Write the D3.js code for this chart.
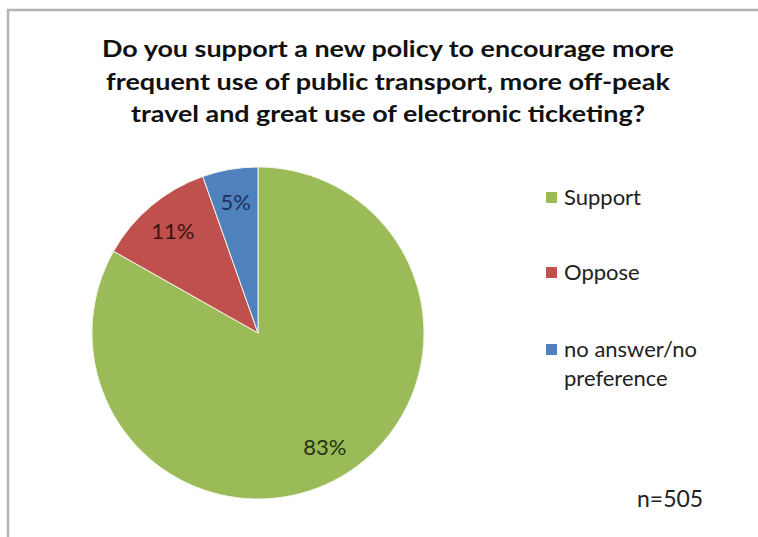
<!DOCTYPE html>
<html>
<head>
<meta charset="utf-8">
<script src="https://cdn.jsdelivr.net/npm/d3@7"></script>
<style>
  html, body { margin: 0; padding: 0; background: #fff; }
  svg { display: block; }
</style>
</head>
<body>
<svg id="chart" width="758" height="537"></svg>
<script>
// ---- data ----
const categories = ["Support", "Oppose", "no answer/no preference"];
const values = [83.2, 11.4, 5.4];
const valueLabels = ["83%", "11%", "5%"];
const colors = ["#9BBB59", "#C0504D", "#4F81BD"];
const labelColors = ["#24320f", "#3a1513", "#1c3157"];
const legendLines = [["Support"], ["Oppose"], ["no answer/no", "preference"]];
const titleLines = [
  "Do you support a new policy to encourage more",
  "frequent use of public transport, more off-peak",
  "travel and great use of electronic ticketing?"
];
const note = "n=505";

// ---- drawing ----
const svg = d3.select("#chart");
svg.append("rect").attr("width", 758).attr("height", 537).attr("fill", "#fff");

// chart frame (left and top edges visible)
svg.append("rect")
  .attr("x", 8).attr("y", 10)
  .attr("width", 800).attr("height", 600)
  .attr("fill", "none").attr("stroke", "#b3b3b3").attr("stroke-width", 2.5);

// title
const titleX = 388;
const titleBase = [57, 90, 122];
const titleW = [572, 564, 514];
svg.append("g").selectAll("text").data(titleLines).join("text")
  .attr("x", titleX)
  .attr("y", (d, i) => titleBase[i])
  .attr("text-anchor", "middle")
  .attr("font-family", "Lato, 'Open Sans', sans-serif")
  .attr("font-weight", "bold")
  .attr("font-size", 23)
  .attr("fill", "#111")
  .attr("textLength", (d, i) => titleW[i])
  .attr("lengthAdjust", "spacingAndGlyphs")
  .text(d => d);

// pie
const cx = 258, cy = 333, R = 166;
const pie = d3.pie().sort(null).value(d => d);
const arcs = pie(values);
const arc = d3.arc().innerRadius(0).outerRadius(R);
const labelArc = d3.arc().innerRadius(R * 0.8).outerRadius(R * 0.8);

const g = svg.append("g").attr("transform", `translate(${cx},${cy})`);
g.selectAll("path").data(arcs).join("path")
  .attr("d", arc)
  .attr("fill", (d, i) => colors[i])
  .attr("stroke", "#f4f4e8")
  .attr("stroke-width", 1);

g.selectAll("text").data(arcs).join("text")
  .attr("transform", d => `translate(${labelArc.centroid(d)})`)
  .attr("text-anchor", "middle")
  .attr("dy", "0.35em")
  .attr("font-family", "Lato, 'Open Sans', sans-serif")
  .attr("font-size", 22)
  .attr("fill", (d, i) => labelColors[i])
  .text((d, i) => valueLabels[i]);

// legend
const legendY = [198, 273, 350];
const lg = svg.append("g");
const items = lg.selectAll("g").data(categories).join("g")
  .attr("transform", (d, i) => `translate(546,${legendY[i]})`);
items.append("rect")
  .attr("x", 0).attr("y", -6)
  .attr("width", 11).attr("height", 11)
  .attr("fill", (d, i) => colors[i]);
items.each(function(d, i) {
  d3.select(this).selectAll("text").data(legendLines[i]).join("text")
    .attr("x", 18)
    .attr("y", (t, j) => 7 + j * 29)
    .attr("font-family", "Lato, 'Open Sans', sans-serif")
    .attr("font-size", 22)
    .attr("fill", "#222")
    .text(t => t);
});

// sample size note
svg.append("text")
  .attr("x", 637).attr("y", 507)
  .attr("font-family", "Lato, 'Open Sans', sans-serif")
  .attr("font-size", 23)
  .attr("fill", "#222")
  .text(note);
</script>
</body>
</html>
